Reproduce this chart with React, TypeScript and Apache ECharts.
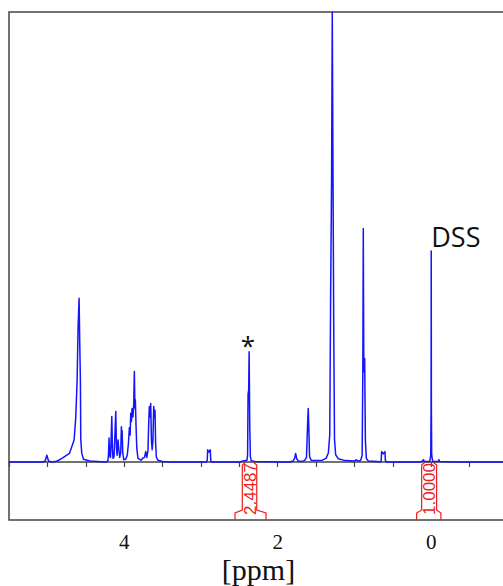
import { useEffect, useRef } from "react";
import * as echarts from "echarts";

// ---- axis values ----
const ppmMin = -1;
const ppmMax = 5.5;
const ppmStep = 0.5;
const xTickLabels = [4, 2, 0];
const intensityMin = -12.9;
const intensityMax = 100;

// ---- spectrum, [ppm, relative intensity] ----
const regionAnomeric: number[][] = [
  [5.5, 0], [5.06, 0], [5.03, 0.2], [5.007, 1.5], [4.985, 0.2], [4.95, 0],
  [4.88, 0.15], [4.81, 0.8], [4.713, 1.9], [4.652, 4.9], [4.63, 10], [4.613, 18],
  [4.6, 30], [4.587, 36.4], [4.578, 26], [4.57, 18], [4.565, 5], [4.552, 1.9],
  [4.53, 0.6], [4.45, 0.2], [4.3, 0.05],
];

const regionSugar: number[][] = [
  [4.23, 0], [4.21, 0.4], [4.203, 2], [4.197, 5.3], [4.19, 1.5], [4.178, 1],
  [4.168, 6], [4.161, 10.1], [4.153, 3], [4.145, 0.8], [4.132, 1.2], [4.118, 7],
  [4.109, 11.2], [4.1, 3], [4.092, 1.5], [4.08, 4.9], [4.073, 3.5], [4.058, 1.0],
  [4.045, 2], [4.036, 7.8], [4.031, 5.5], [4.027, 7.0], [4.018, 2], [4.005, 0.5],
  [3.98, 0.6], [3.96, 1.5], [3.945, 4], [3.932, 7.6], [3.922, 6], [3.914, 10.8],
  [3.905, 9], [3.897, 11.9], [3.885, 10], [3.875, 13], [3.867, 20.1], [3.86, 12],
  [3.854, 13.8], [3.845, 7.9], [3.835, 3], [3.82, 0.8], [3.78, 0.4], [3.755, 0.9],
  [3.735, 1.0], [3.719, 2.3], [3.705, 1], [3.69, 2.5], [3.681, 8], [3.672, 12.3],
  [3.664, 10], [3.654, 13.0], [3.645, 5], [3.635, 2.7], [3.625, 5], [3.615, 12.3],
  [3.607, 10], [3.598, 11.5], [3.59, 4], [3.58, 1], [3.56, 0.4], [3.5, 0.1], [3.4, 0],
];

const regionMid: number[][] = [
  [3.0, 0], [2.93, 0], [2.918, 0.3], [2.912, 2.7], [2.895, 2.2], [2.878, 2.7],
  [2.872, 0.3], [2.86, 0], [2.5, 0], [2.45, 0.2], [2.4, 0.4], [2.392, 1.5],
  [2.386, 15], [2.378, 16], [2.372, 24.5], [2.364, 8], [2.356, 1.2], [2.345, 0.3],
  [2.3, 0.1], [2.0, 0],
];

const regionAliphatic: number[][] = [
  [1.85, 0], [1.8, 0.2], [1.78, 0.8], [1.766, 1.9], [1.752, 0.7], [1.73, 0.2],
  [1.7, 0.1], [1.65, 0.3], [1.625, 1], [1.61, 8.6], [1.602, 11.9], [1.595, 8],
  [1.585, 1.2], [1.565, 0.4], [1.5, 0.3], [1.42, 0.4], [1.37, 0.8], [1.34, 2],
  [1.322, 6], [1.31, 38], [1.298, 62.7], [1.289, 100], [1.279, 62], [1.27, 30],
  [1.26, 5], [1.245, 1.6], [1.21, 0.7], [1.12, 0.3], [1.0, 0.2], [0.975, 0.5],
  [0.955, 0.2], [0.92, 0.3], [0.9, 1.5], [0.891, 20], [0.885, 51.9], [0.878, 20],
  [0.872, 22], [0.867, 23], [0.858, 5], [0.845, 0.8], [0.82, 0.2], [0.7, 0.1],
  [0.66, 0], [0.652, 0.3], [0.646, 2.3], [0.625, 1.8], [0.603, 2.3], [0.597, 0.3],
  [0.58, 0], [0.2, 0],
];

const regionReference: number[][] = [
  [0.15, 0], [0.125, 0.1], [0.1, 0.5], [0.09, 0.1], [0.02, 0.1], [0.006, 1.5],
  [0.002, 12], [0, 46.9], [-0.002, 12], [-0.006, 1.5], [-0.02, 0.1], [-0.09, 0.1],
  [-0.1, 0.5], [-0.11, 0.1], [-0.3, 0], [-1, 0],
];

// ---- annotations ----
const labeledPeakPpm = [2.374, 0];
const labeledPeakHeight = [24.5, 46.9];
const labeledPeakText = ["*", "DSS"];

// integration ranges [from, to] (ppm) and their flared ends
const integralInner = [[2.461, 2.273], [0.125, -0.07]];
const integralOuter = [[2.556, 2.152], [0.19, -0.126]];
const integralValues = ["2.4487", "1.0000"];

export default function App() {
  const ref = useRef<HTMLDivElement>(null);

  useEffect(() => {
    if (!ref.current) return;
    const chart = echarts.init(ref.current, undefined, { renderer: "svg" });

    const spectrum = [
      ...regionAnomeric,
      ...regionSugar,
      ...regionMid,
      ...regionAliphatic,
      ...regionReference,
    ];

    const red = "#ee1c1c";

    chart.setOption({
      animation: false,
      backgroundColor: "#ffffff",
      grid: {
        left: 9,
        right: 0,
        top: 12,
        bottom: 66,
        show: true,
        borderColor: "#444",
        borderWidth: 1.5,
        containLabel: false,
        outerBoundsMode: "none",
      },
      xAxis: {
        type: "value",
        inverse: true,
        min: ppmMin,
        max: ppmMax,
        interval: ppmStep,
        name: "[ppm]",
        nameLocation: "middle",
        nameGap: 34,
        nameMoveOverlap: false,
        nameTextStyle: {
          fontFamily: "Liberation Serif",
          fontSize: 30,
          color: "#111",
          verticalAlign: "top",
        },
        axisLine: { show: true, lineStyle: { color: "#444", width: 1.5 } },
        axisTick: { show: true, length: 5, lineStyle: { color: "#444", width: 1.2 } },
        splitLine: { show: false },
        axisLabel: {
          fontFamily: "Liberation Serif",
          fontSize: 21,
          color: "#111",
          margin: 11,
          formatter: (v: number) =>
            xTickLabels.some((t) => Math.abs(t - v) < 1e-9) ? String(v) : "",
        },
      },
      yAxis: {
        type: "value",
        min: intensityMin,
        max: intensityMax,
        axisLine: { show: false },
        axisTick: { show: false },
        axisLabel: { show: false },
        splitLine: { show: false },
      },
      series: [
        {
          type: "line",
          data: spectrum,
          showSymbol: false,
          symbol: "none",
          lineStyle: { color: "#1414ff", width: 1.5, join: "round" },
          clip: true,
          z: 3,
        },
        {
          type: "custom",
          data: integralInner.map((r, i) => [r[0], r[1], integralOuter[i][0], integralOuter[i][1]]),
          z: 4,
          renderItem: (params: any, api: any) => {
            const i = params.dataIndex;
            const inL = api.value(0);
            const inR = api.value(1);
            const outL = api.value(2);
            const outR = api.value(3);
            const top = api.coord([inL, 0])[1];
            const bottom = api.coord([inL, intensityMin])[1];
            const xl = api.coord([inL, 0])[0];
            const xr = api.coord([inR, 0])[0];
            const xol = api.coord([outL, 0])[0];
            const xor = api.coord([outR, 0])[0];
            const yBend = bottom - 10;
            const yFlare = bottom - 7;
            const style = { stroke: red, lineWidth: 1.2, fill: "none" };
            return {
              type: "group",
              children: [
                {
                  type: "polyline",
                  shape: {
                    points: [
                      [xl + 3, top + 0.5],
                      [xl, top + 3],
                      [xl, yBend],
                      [xol, yFlare],
                      [xol, bottom],
                    ],
                  },
                  style,
                },
                {
                  type: "polyline",
                  shape: {
                    points: [
                      [xr - 3, top + 0.5],
                      [xr, top + 3],
                      [xr, yBend],
                      [xor, yFlare],
                      [xor, bottom],
                    ],
                  },
                  style,
                },
                {
                  type: "text",
                  x: (xl + xr) / 2 + 0.5,
                  y: (top + yBend) / 2 + 3,
                  rotation: Math.PI / 2,
                  style: {
                    text: integralValues[i],
                    fontFamily: "Liberation Sans",
                    fontSize: 17,
                    fill: red,
                    align: "center",
                    verticalAlign: "middle",
                  },
                },
              ],
            };
          },
        },
        {
          type: "custom",
          data: labeledPeakPpm.map((p, i) => [p, labeledPeakHeight[i]]),
          z: 5,
          renderItem: (params: any, api: any) => {
            const i = params.dataIndex;
            const pt = api.coord([api.value(0), api.value(1)]);
            const isStar = labeledPeakText[i] === "*";
            return {
              type: "text",
              x: isStar ? pt[0] - 1 : pt[0] + 0,
              y: isStar ? pt[1] + 6 : pt[1] - 1,
              style: {
                text: labeledPeakText[i],
                fontFamily: "Open Sans",
                fontSize: isStar ? 26 : 27,
                fill: "#111",
                align: isStar ? "center" : "left",
                verticalAlign: "bottom",
              },
            };
          },
        },
      ],
    });

    return () => chart.dispose();
  }, []);

  return (
    <div
      style={{
        position: "absolute",
        left: 0,
        top: 0,
        width: 503,
        height: 586,
        overflow: "hidden",
        background: "#fff",
      }}
    >
      <div ref={ref} style={{ width: 508, height: 586 }} />
    </div>
  );
}
